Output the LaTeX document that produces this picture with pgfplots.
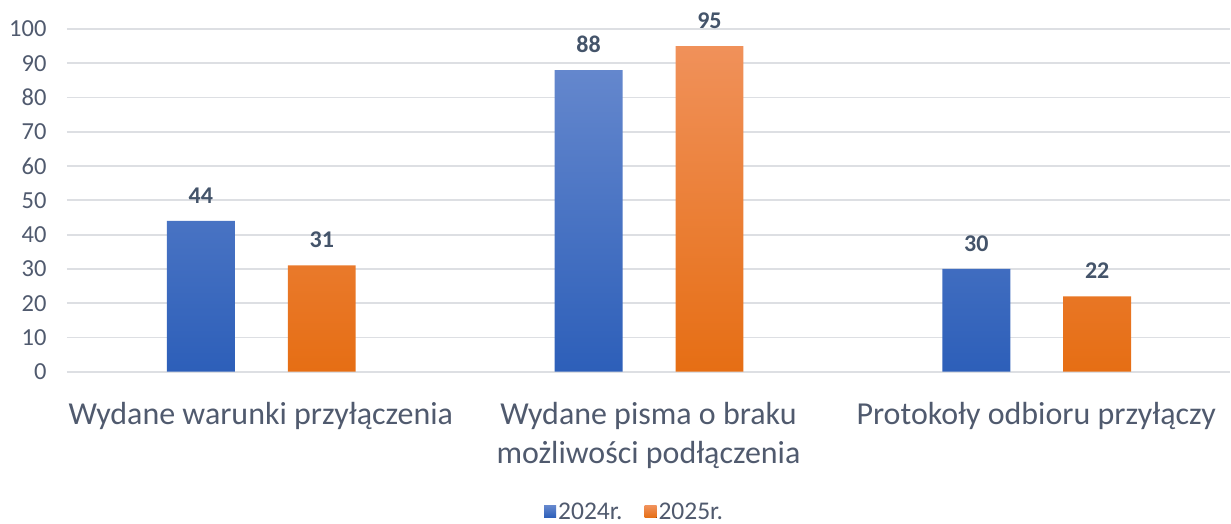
\documentclass[border=0pt]{standalone}
\usepackage{pgfplots}
\pgfplotsset{compat=1.18}
\usepackage{fontspec}
\setmainfont{Carlito}
\definecolor{txt}{HTML}{505A6E}
\definecolor{lbl}{HTML}{44546A}
\definecolor{gridc}{HTML}{DDDFE3}
\definecolor{bluetop}{HTML}{6487CD}
\definecolor{bluebot}{HTML}{2D5FB9}
\definecolor{orgtop}{HTML}{F0915A}
\definecolor{orgbot}{HTML}{E66E14}
\begin{document}
\begin{tikzpicture}
\begin{axis}[
  scale only axis,
  width=1164pt, height=343pt,
  xmin=-0.5, xmax=2.5,
  ymin=0, ymax=100,
  ytick={0,10,...,100},
  xtick={0,1,2},
  xticklabels={Wydane warunki przyłączenia, {Wydane pisma o braku\\możliwości podłączenia}, Protokoły odbioru przyłączy},
  xticklabel style={align=center, font=\fontsize{32}{39.5}\selectfont, text=txt, anchor=north, yshift=-27pt},
  yticklabel style={font=\fontsize{24.5}{29}\selectfont, text=txt, xshift=-17pt},
  /pgf/number format/assume math mode=true,
  axis line style={draw=none},
  major tick length=0pt,
  ymajorgrids,
  grid style={draw=gridc, line width=1.8pt},
  ybar, bar width=68pt,
  nodes near coords,
  nodes near coords style={font=\fontsize{24}{29}\selectfont\bfseries, text=lbl, yshift=14pt},
  legend style={draw=none, inner sep=1pt, at={(axis description cs:0.488,-0.408)}, anchor=center, legend columns=2, font=\fontsize{25.5}{30}\selectfont, text=txt, /tikz/every even column/.append style={column sep=20pt}},
  legend image code/.code={\fill[#1] (0pt,-6pt) rectangle (12pt,6pt);},
  clip=false,
]
\addplot[draw=none, top color=bluetop, bottom color=bluebot, bar shift=-60pt] coordinates {(0,44) (1,88) (2,30)};
\addplot[draw=none, top color=orgtop, bottom color=orgbot, bar shift=61pt] coordinates {(0,31) (1,95) (2,22)};
\legend{2024r., 2025r.}
\end{axis}
\path ([xshift=-67pt,yshift=29pt]current axis.north west) rectangle ([yshift=-147pt]current axis.south east);
\end{tikzpicture}
\end{document}
